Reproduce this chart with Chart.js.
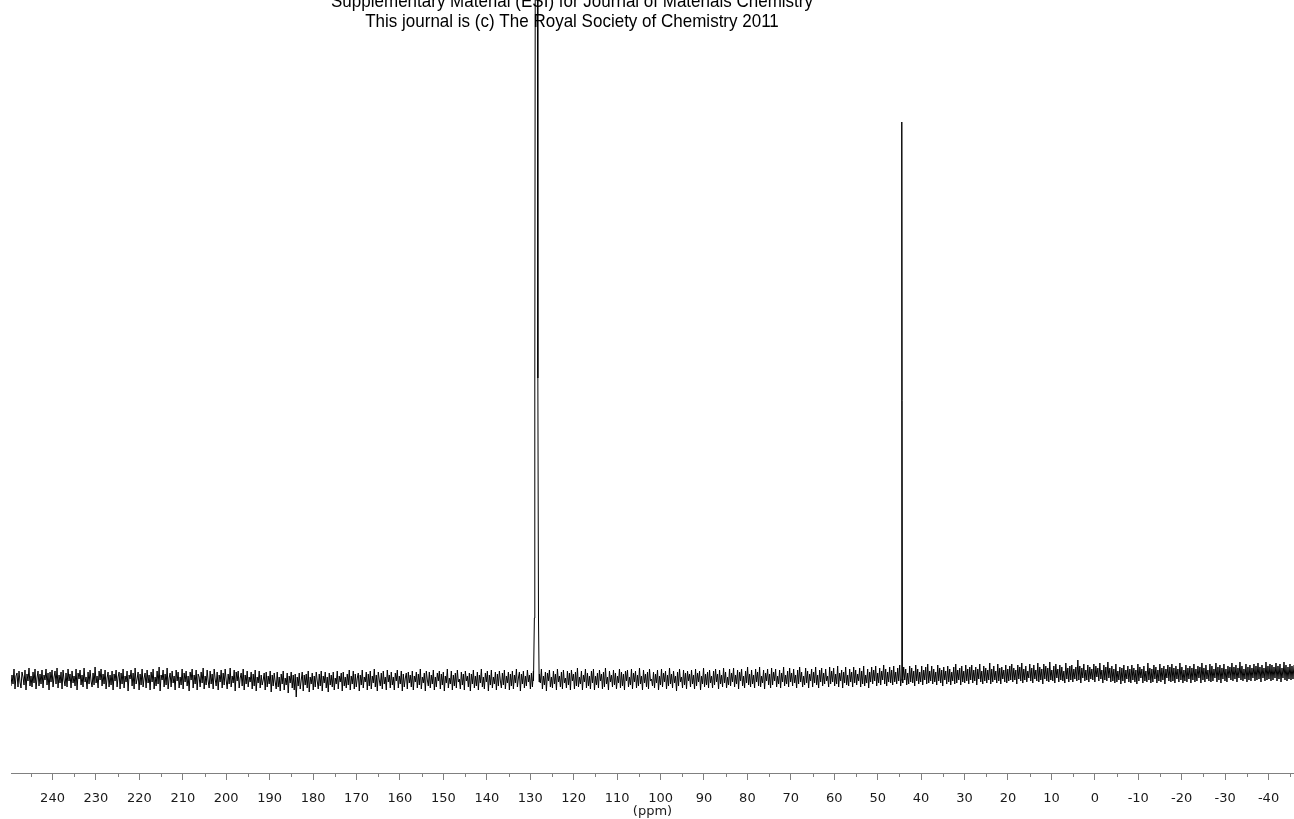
<!DOCTYPE html>
<html>
<head>
<meta charset="utf-8">
<script src="https://cdn.jsdelivr.net/npm/chart.js@4/dist/chart.umd.min.js"></script>
<style>
  body { margin: 0; background: #fff; }
  canvas { display: block; }
</style>
</head>
<body>
<canvas id="spectrum" width="1294" height="819"></canvas>
<script>
const headerLines = [
  "Supplementary Material (ESI) for Journal of Materials Chemistry",
  "This journal is (c) The Royal Society of Chemistry 2011",
];

const majorTicks = [240, 230, 220, 210, 200, 190, 180, 170, 160, 150, 140, 130, 120, 110, 100,
  90, 80, 70, 60, 50, 40, 30, 20, 10, 0, -10, -20, -30, -40];
const minorTicks = [245, 235, 225, 215, 205, 195, 185, 175, 165, 155, 145, 135, 125, 115, 105,
  95, 85, 75, 65, 55, 45, 35, 25, 15, 5, -5, -15, -25, -35, -45];

const ppmMax = 249.56;
const ppmMin = -45.86;

// baseline noise, one sample per pixel column from ppmMax down to ppmMin
const noise = [
  -8, 3, -6, 9, -11, 2, 5, -9, 7, -4, -10, 6, 1, -7, 8, -12, 4, -3, 10, -8,
  2, -9, 6, -5, 9, -11, 0, 7, -8, 4, -6, 8, -10, 3, -2, 9, -7, 5, -12, 6,
  -4, 8, -9, 1, 7, -6, 10, -10, 3, -5, 6, -11, 8, -2, -8, 5, -9, 9, -3, 4,
  -10, 7, -5, 2, -8, 9, -12, 5, -1, 8, -7, 3, -9, 10, -4, 1, -11, 6, -6, 8,
  -3, -9, 5, -7, 11, -5, 2, -10, 7, -2, 9, -8, 4, -6, 8, -11, 0, 6, -9, 3,
  -7, 7, -12, 4, -3, 8, -9, 1, 6, -11, 5, -6, 9, -10, 2, -4, 7, -13, 3, -1,
  8, -8, 5, -11, 10, -6, -1, 6, -12, 4, -7, 9, -9, 0, 5, -10, 8, -5, 3, -12,
  6, -4, 9, -11, 1, -8, 7, -6, 11, -13, 3, -2, 8, -9, 4, -7, 10, -11, 0, 5,
  -9, 7, -5, 2, -12, 8, -3, 6, -10, 1, -7, 9, -11, 5, -4, 7, -8, 2, -13, 6,
  -2, 9, -10, 3, -6, 8, -12, 4, 1, -9, 6, -5, 10, -11, 2, -7, 8, -3, -10, 7,
  -6, 4, -11, 9, -1, -8, 6, -12, 3, -4, 8, -10, 5, -7, 9, -2, -11, 4, -6, 10,
  -9, 2, -5, 8, -13, 6, -3, 7, -10, 0, 5, -8, 9, -12, 3, -6, 7, -9, 1, -4,
  6, -11, 4, -8, 8, -13, 1, -5, 7, -10, 3, -7, -2, 5, -12, 6, -9, 2, -6, 7,
  -14, 3, -8, 5, -4, -11, 6, -9, 1, -13, 4, -6, 7, -12, 0, -7, 5, -15, 2, -5,
  6, -10, 3, -12, 4, -19, 1, -8, 5, -11, -2, 6, -13, 3, -7, 4, -10, 7, -14, 1,
  -6, 5, -12, 2, -9, 6, -3, -11, 4, -8, 7, -13, 2, -5, 6, -10, 1, -14, 5, -7,
  3, -9, 6, -12, 0, -6, 7, -11, 2, -4, 5, -13, 6, -8, 1, -10, 4, -7, 8, -12,
  2, -6, 7, -11, 4, -9, 0, 5, -13, 3, -7, 8, -10, 1, -4, 6, -12, 4, -8, 7,
  -11, 2, -5, 9, -9, 3, -13, 6, -2, -8, 5, -11, 7, -6, 1, -12, 8, -4, 3, -10,
  6, -7, 1, -12, 5, -3, 8, -10, 2, -6, 7, -13, 4, -9, 0, 5, -11, 6, -5, 3,
  -9, 7, -12, 2, -4, 6, -10, 4, -7, 9, -11, 1, -5, 5, -13, 7, -2, -8, 6, -10,
  3, -6, 8, -12, 1, -9, 5, -3, 7, -11, 4, -7, 6, -13, 2, -5, 9, -10, 0, -6,
  7, -12, 3, -8, 5, -10, 8, -4, -1, -11, 6, -7, 4, -12, 7, -3, 2, -9, 5, -13,
  4, -6, 8, -10, 2, -8, 6, -12, 3, -5, 9, -9, 1, -11, 5, -4, 7, -13, 3, -7,
  8, -10, 1, -6, 6, -12, 4, -8, 7, -3, -10, 5, -7, 8, -11, 2, -5, 6, -12, 4,
  -8, 7, -11, 3, -5, 9, -9, 0, 6, -13, 4, -6, 7, -10, 2, -8, 8, -4, 3, -11,
  5, -9, 7, -12, 3, -6, 8, -10, 4, -5, 9, -11, 2, -7, 6, -13, 5, -3, 8, -9,
  1, -10, 7, -6, 4, -12, 9, -4, 2, -9, 6, -11, 8, -5, 0, -10, 7, -7, 5, -12,
  8, -3, 4, -11, 6, -8, 10, -9, 1, -6, 7, -12, 3, -4, 9, -10, 5, -8, 2, -11,
  7, -5, 9, -12, 2, -7, 5, -10, 8, -3, 4, -11, 6, -9, 10, -6, 1, -12, 7, -4,
  3, -9, 8, -7, 5, -11, 2, -5, 9, -10, 6, -8, 4, -12, 7, -3, 8, -9, 1, -7,
  9, -11, 5, -4, 7, -10, 3, -8, 10, -6, 2, -12, 8, -5, 4, -9, 6, -11, 9, -3,
  -1, -8, 6, -10, 4, -5, 8, -12, 2, -7, 9, -9, 5, -4, 7, -11, 3, -8, 10, -6,
  4, -10, 7, -5, 2, -13, 6, -8, 9, -4, 1, -10, 8, -7, 5, -11, 7, -3, 4, -9,
  8, -6, 3, -11, 9, -8, 5, -4, 7, -12, 2, -6, 10, -9, 4, -7, 6, -10, 8, -5,
  2, -10, 7, -7, 9, -4, 4, -11, 8, -6, 3, -9, 10, -5, 6, -10, 1, -7, 9, -8,
  5, -4, 10, -9, 3, -6, 8, -11, 6, -3, 9, -8, 2, -10, 7, -5, 11, -7, 4, -9,
  8, -6, 3, -10, 9, -4, 6, -8, 11, -9, 2, -5, 8, -11, 5, -3, 9, -7, 4, -10,
  10, -7, 6, -3, 9, -9, 2, -6, 8, -10, 5, -4, 11, -8, 3, -6, 7, -9, 10, -4,
  5, -8, 9, -5, 3, -10, 8, -6, 11, -4, 6, -9, 2, -7, 10, -5, 7, -10, 4, -3,
  9, -9, 6, -5, 11, -7, 3, -10, 8, -4, 10, -8, 5, -6, 9, -3, 2, -9, 11, -6,
  7, -4, 10, -8, 4, -6, 12, -9, 5, -3, 8, -10, 6, -5, 11, -7, 3, -8, 9, -4,
  6, -9, 11, -5, 8, -7, 4, -3, 10, -9, 7, -6, 12, -8, 3, -5, 9, -10, 6, -4,
  11, -6, 8, -3, 12, -8, 5, -5, 10, -7, 7, -2, 13, -6, 9, -8, 6, -4, 11, -5,
  8, -7, 12, -4, 6, -6, 10, -3, 13, -8, 7, -5, 11, -2, 9, -7, 5, -6, 12, -4,
  10, -5, 7, -8, 13, -3, 9, -6, 6, -4, 12, -7, 8, -2, 11, -6, 14, -5, 7, -3,
  12, -6, 9, -4, 6, -7, 13, -3, 10, -5, 8, -8, 11, -2, 7, -6, 12, -4, 9, -7,
  6, -3, 11, -6, 14, -5, 8, -2, 10, -7, 12, -4, 7, -5, 13, -3, 9, -6, 11, -2,
  13, -5, 8, -3, 11, -7, 9, -1, 14, -4, 7, -6, 12, -3, 10, -5, 8, -2, 15, -6,
  9, -4, 12, -2, 7, -5, 14, -3, 10, -6, 11, -1, 8, -4, 13, -5, 9, -3, 12, -2,
  14, -4, 10, -2, 8, -6, 13, -1, 11, -3, 15, -5, 9, -2, 12, -4, 7, 0, 14, -3,
  10, -5, 13, -1, 8, -3, 15, -4, 11, -2, 9, -6, 14, -1, 12, -3, 10, -4, 16, -2,
  8, -3, 12, -5, 14, 0, 9, -4, 13, -2, 11, -3, 7, -5, 15, -1, 10, -4, 12, -2,
  13, -4, 9, -1, 11, -3, 18, -2, 12, -5, 10, 0, 14, -3, 8, -2, 13, -4, 11, -1,
  9, -2, 14, -4, 12, 1, 10, -3, 15, -1, 8, -5, 13, -2, 11, -3, 16, 0, 10, -4,
  12, -3, 9, -5, 14, -4, 7, -2, 11, -6, 10, -3, 13, -5, 8, -1, 12, -4, 9, -5,
  13, -2, 10, -4, 8, -6, 14, -3, 11, 0, 9, -5, 12, -3, 7, -4, 15, -2, 10, -5,
  9, -4, 13, -1, 11, -5, 8, -3, 14, -4, 10, -2, 12, -6, 9, 0, 13, -3, 11, -4,
  14, -3, 10, -5, 12, -1, 9, -4, 15, -2, 11, -5, 8, -3, 13, -4, 10, -1, 12, -5,
  10, -2, 14, -4, 9, -3, 12, 0, 11, -5, 15, -2, 10, -4, 13, -1, 8, -3, 14, -4,
  12, -3, 9, 0, 15, -4, 11, -2, 13, -5, 10, -1, 14, -3, 9, -4, 12, 0, 11, -2,
  15, -3, 11, -1, 13, -4, 10, 0, 16, -2, 12, -3, 9, -1, 14, -4, 11, -2, 13, -3,
  10, 0, 14, -3, 12, -2, 15, -1, 11, -4, 13, 0, 10, -3, 16, -2, 12, -1, 14, -3,
  13, -2, 11, 0, 15, -3, 12, -1, 14, -4, 10, 0, 16, -2, 13, -3, 11, -1, 14, -2,
  12, -1, 13,
];

// the big peak near 128.6 ppm runs off the top of the plot
const peak1Ppm = [129.25, 129.05, 128.95, 128.85, 128.75, 128.6, 128.45, 128.35, 128.25, 128.1, 127.95];
const peak1Height = [-3, 60, 300, 700, 1000, 1400, 1000, 700, 300, 60, -4];

const peak2Ppm = [44.6, 44.47, 44.43, 44.3];
const peak2Height = [-2, 556, 556, -1];

function buildPoints() {
  const step = (ppmMax - ppmMin) / (noise.length - 1);
  const peaks = [
    { ppm: peak1Ppm, h: peak1Height },
    { ppm: peak2Ppm, h: peak2Height },
  ];

  const inPeak = (x) =>
    peaks.some((p) => x <= p.ppm[0] && x >= p.ppm[p.ppm.length - 1]);

  const points = [];
  noise.forEach((v, i) => {
    const x = ppmMax - i * step;
    if (!inPeak(x)) points.push({ x: x, y: v });
  });
  peaks.forEach((p) => {
    p.ppm.forEach((x, i) => points.push({ x: x, y: p.h[i] }));
  });

  points.sort((a, b) => b.x - a.x);
  return points;
}

const headerPlugin = {
  id: "header",
  beforeDatasetsDraw(chart) {
    const ctx = chart.ctx;
    ctx.save();
    ctx.fillStyle = "#000";
    ctx.textAlign = "center";
    ctx.textBaseline = "alphabetic";
    ctx.font = '19px "Liberation Sans", Arial, sans-serif';
    ctx.translate(572, 0);
    ctx.scale(0.895, 1);
    ctx.fillText(headerLines[0], 0, 7);
    ctx.fillText(headerLines[1], 0, 27);
    ctx.restore();
  },
};

const minorTickPlugin = {
  id: "minorTicks",
  afterDraw(chart) {
    const scale = chart.scales.x;
    const ctx = chart.ctx;
    ctx.save();
    ctx.strokeStyle = "#808080";
    ctx.lineWidth = 1;
    ctx.beginPath();
    minorTicks.forEach((v) => {
      const x = Math.round(scale.getPixelForValue(v)) + 0.5;
      ctx.moveTo(x, scale.top);
      ctx.lineTo(x, scale.top + 4);
    });
    ctx.stroke();
    ctx.restore();
  },
};

new Chart(document.getElementById("spectrum"), {
  type: "line",
  data: {
    datasets: [
      {
        data: buildPoints(),
        borderColor: "#000",
        borderWidth: 1,
        pointRadius: 0,
        tension: 0,
        fill: false,
      },
    ],
  },
  options: {
    responsive: false,
    animation: false,
    events: [],
    layout: { padding: { left: 11, right: 0, top: 0, bottom: 0 } },
    plugins: {
      legend: { display: false },
      tooltip: { enabled: false },
    },
    scales: {
      x: {
        type: "linear",
        reverse: true,
        min: ppmMin,
        max: ppmMax,
        afterBuildTicks: (s) => {
          s.ticks = majorTicks.map((v) => ({ value: v }));
        },
        afterFit: (s) => {
          s.height = 46;
        },
        grid: {
          drawOnChartArea: false,
          drawTicks: true,
          tickLength: 7,
          tickColor: "#808080",
          color: "#808080",
        },
        border: { display: true, color: "#808080", width: 1 },
        ticks: {
          font: { family: "DejaVu Sans", size: 13 },
          color: "#1a1a1a",
          padding: 11,
          maxRotation: 0,
          autoSkip: false,
        },
        title: {
          display: true,
          text: "(ppm)",
          font: { family: "DejaVu Sans", size: 13 },
          color: "#1a1a1a",
          padding: 0,
        },
      },
      y: {
        display: false,
        min: -95,
        max: 678,
      },
    },
  },
  plugins: [headerPlugin, minorTickPlugin],
});
</script>
</body>
</html>
